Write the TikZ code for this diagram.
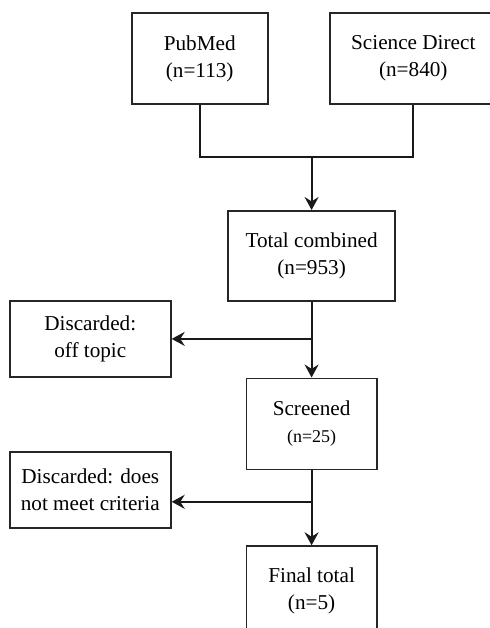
\documentclass[tikz,border=0pt]{standalone}
\usepackage{fontspec}
\setmainfont{Liberation Serif}
\usepackage{tikz}
\usetikzlibrary{arrows.meta,positioning,calc}
\tikzset{
  fbox/.style   ={draw=black!85, line width=0.9pt, align=center, inner sep=2pt,
                  fill=white, font=\fontsize{10.6}{13.4}\selectfont},
  fsrc/.style   ={fbox, minimum height=45.5pt},
  fstage/.style ={fbox, minimum height=45pt},
  fdrop/.style  ={fbox, minimum width=80.5pt, minimum height=38pt},
  fline/.style  ={draw=black!90, line width=1pt},
  far/.style    ={fline, -{Stealth[length=6.5pt, width=7pt, inset=2.2pt]}},
}
\newcommand{\smalln}[1]{{\fontsize{9}{13.4}\selectfont #1}}

\begin{document}
\begin{tikzpicture}

\useasboundingbox (0,0) rectangle (245pt,-314pt);
\clip (0,0) rectangle (245pt,-314pt);

\node[fsrc, minimum width=68pt] (pubmed) at (99.85pt,-29.25pt) {PubMed\\(n=113)};
\node[fsrc, minimum width=83.5pt, right=30.15pt of pubmed] (scidir) {Science Direct\\(n=840)};

\coordinate (join) at (155.8pt,-78.5pt);

\node[fstage, minimum width=83.5pt, below=26.5pt of join] (total) {Total combined\\(n=953)};
\node[fstage, minimum width=65.2pt, minimum height=45.5pt, below=37.85pt of total] (screened)
  {Screened\\\smalln{(n=25)}};
\node[fstage, minimum width=65.2pt, below=37.5pt of screened] (final) {Final total\\(n=5)};

\node[fdrop, anchor=north east] (offtopic) at (85.85pt,-150pt) {Discarded:\\off topic};
\node[fdrop, anchor=north east] (criteria) at (85.85pt,-225.5pt) {Discarded: does\\not meet criteria};

\coordinate (split2) at ($(screened.south)!0.42!(final.north)$);

\draw[fline] (pubmed.south) |- (join);
\draw[fline] (scidir.south) |- (join);
\draw[far] (join) -- (total.north);
\draw[far] (total) -- (screened);
\draw[far] (total.south |- offtopic.east) -- (offtopic.east);
\draw[far] (screened) -- (final);
\draw[far] (split2) -- (split2 -| criteria.east);

\end{tikzpicture}
\end{document}
